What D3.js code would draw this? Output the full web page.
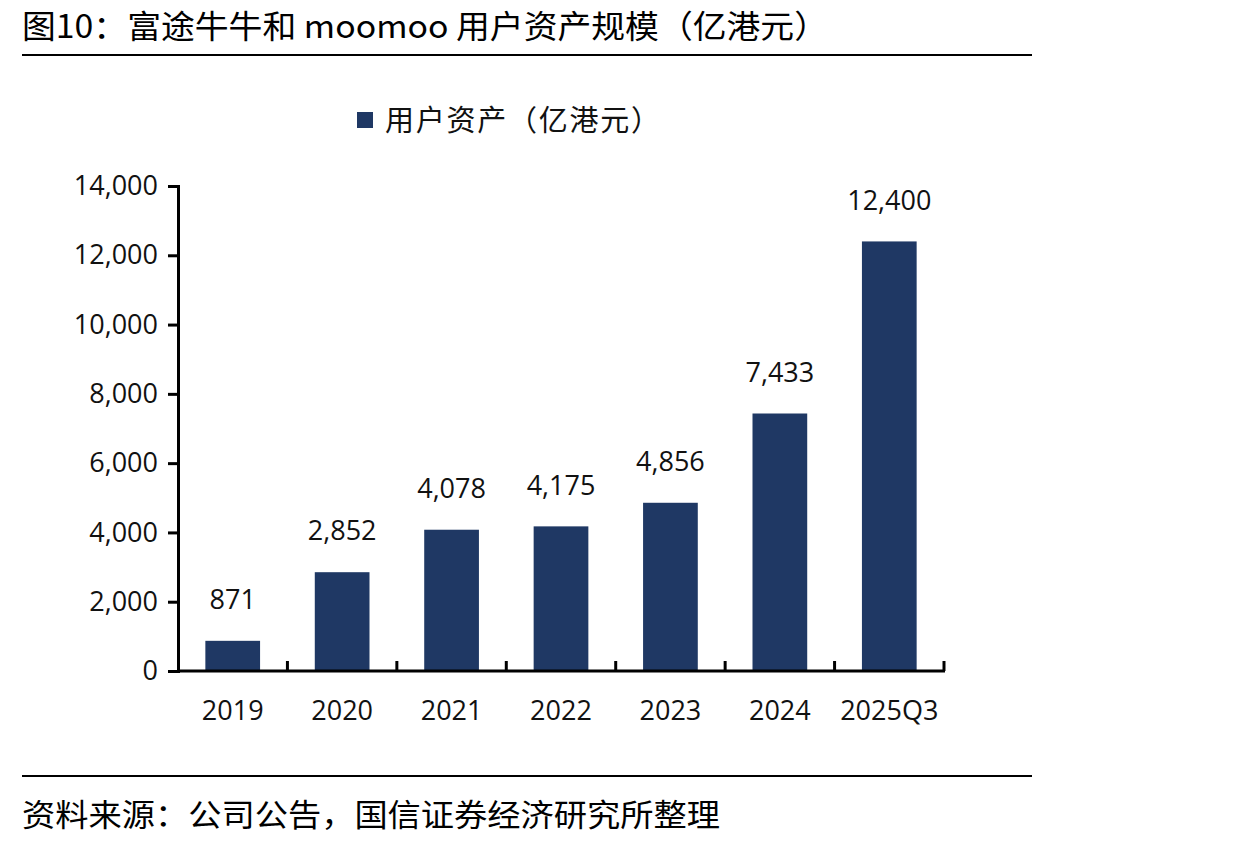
<!DOCTYPE html>
<html>
<head>
<meta charset="utf-8">
<script src="https://cdn.jsdelivr.net/npm/d3@7"></script>
<style>
  body { margin: 0; background: #fff; }
  svg { display: block; }
</style>
</head>
<body>
<svg width="1248" height="845"></svg>
<script>
const categories = ['2019', '2020', '2021', '2022', '2023', '2024', '2025Q3'];
const assets = [871, 2852, 4078, 4175, 4856, 7433, 12400];
const yTicks = [0, 2000, 4000, 6000, 8000, 10000, 12000, 14000];
const seriesName = '用户资产（亿港元）';
const titleText = '图10：富途牛牛和 moomoo 用户资产规模（亿港元）';
const sourceText = '资料来源：公司公告，国信证券经济研究所整理';

const svg = d3.select('svg');
const cjk = '"Noto Sans CJK SC", "Noto Sans", sans-serif';
const num = '"Open Sans", sans-serif';
const barColor = '#1f3864';

// title + rules
svg.append('text')
   .attr('x', 22).attr('y', 38)
   .attr('font-family', cjk).attr('font-size', 32)
   .attr('textLength', 806).attr('lengthAdjust', 'spacingAndGlyphs')
   .text(titleText);
svg.append('line').attr('x1', 22).attr('x2', 1032).attr('y1', 55).attr('y2', 55)
   .attr('stroke', '#000').attr('stroke-width', 2);
svg.append('line').attr('x1', 22).attr('x2', 1032).attr('y1', 776).attr('y2', 776)
   .attr('stroke', '#000').attr('stroke-width', 2);
svg.append('text')
   .attr('x', 22).attr('y', 826)
   .attr('font-family', cjk).attr('font-size', 31)
   .attr('textLength', 698).attr('lengthAdjust', 'spacingAndGlyphs')
   .text(sourceText);

// scales
const x = d3.scaleBand().domain(categories).range([178, 944]).paddingInner(0.5).paddingOuter(0.25);
const y = d3.scaleLinear().domain([0, 14000]).range([671, 186]);

// legend
svg.append('rect').attr('x', 357).attr('y', 112).attr('width', 16).attr('height', 16).attr('fill', barColor);
svg.append('text').attr('x', 385).attr('y', 131)
   .attr('font-family', cjk).attr('font-size', 29).attr('fill', '#111')
   .attr('textLength', 275).attr('lengthAdjust', 'spacing')
   .text(seriesName);

// bars
svg.selectAll('.bar')
   .data(assets)
   .enter()
   .append('rect')
   .classed('bar', true)
   .attr('x', (d, i) => x(categories[i]))
   .attr('width', x.bandwidth())
   .attr('y', d => y(d))
   .attr('height', d => y(0) - y(d))
   .attr('fill', barColor);

// value labels
svg.selectAll('.val')
   .data(assets)
   .enter()
   .append('text')
   .classed('val', true)
   .attr('x', (d, i) => x(categories[i]) + x.bandwidth() / 2)
   .attr('y', d => y(d) - 39)
   .attr('text-anchor', 'middle')
   .attr('dominant-baseline', 'middle')
   .attr('font-family', num).attr('font-size', 27).attr('fill', '#111')
   .text(d => d3.format(',')(d));

// y axis
const yAxis = svg.append('g').attr('transform', 'translate(178,0)')
   .call(d3.axisLeft(y).tickValues(yTicks).tickFormat(d3.format(',')).tickSize(10).tickPadding(10));
yAxis.select('.domain').attr('stroke', '#000').attr('stroke-width', 3);
yAxis.selectAll('.tick line').attr('stroke', '#000').attr('stroke-width', 3);
yAxis.selectAll('.tick text').attr('font-family', num).attr('font-size', 27).attr('fill', '#111');

// x axis: baseline, boundary ticks pointing up, labels
const xg = svg.append('g');
xg.append('line').attr('x1', 178).attr('x2', 945).attr('y1', y(0)).attr('y2', y(0))
  .attr('stroke', '#000').attr('stroke-width', 3);
const bounds = categories.map((c, i) => x(c) + x.bandwidth() / 2 + x.step() / 2);
xg.selectAll('.xt')
  .data(bounds)
  .enter()
  .append('line')
  .attr('x1', d => d).attr('x2', d => d)
  .attr('y1', y(0)).attr('y2', y(0) - 10)
  .attr('stroke', '#000').attr('stroke-width', 3);
xg.selectAll('.xl')
  .data(categories)
  .enter()
  .append('text')
  .attr('x', d => x(d) + x.bandwidth() / 2)
  .attr('y', 713)
  .attr('text-anchor', 'middle')
  .attr('dominant-baseline', 'middle')
  .attr('font-family', num).attr('font-size', 27).attr('fill', '#111')
  .text(d => d);
</script>
</body>
</html>
